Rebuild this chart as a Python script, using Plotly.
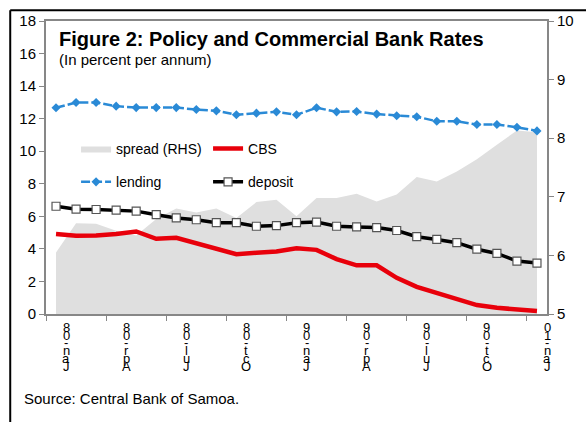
import plotly.graph_objects as go

# Monthly observations, Jan-08 .. Jan-10
months = ["Jan-08", "Feb-08", "Mar-08", "Apr-08", "May-08", "Jun-08", "Jul-08",
          "Aug-08", "Sep-08", "Oct-08", "Nov-08", "Dec-08", "Jan-09", "Feb-09",
          "Mar-09", "Apr-09", "May-09", "Jun-09", "Jul-09", "Aug-09", "Sep-09",
          "Oct-09", "Nov-09", "Dec-09", "Jan-10"]

lending = [12.67, 12.99, 12.99, 12.77, 12.68, 12.68, 12.68, 12.56, 12.48, 12.24,
           12.34, 12.42, 12.24, 12.67, 12.42, 12.44, 12.28, 12.18, 12.12, 11.84,
           11.84, 11.64, 11.64, 11.47, 11.25]

deposit = [6.62, 6.44, 6.42, 6.38, 6.32, 6.10, 5.90, 5.79, 5.61, 5.61,
           5.39, 5.43, 5.61, 5.65, 5.39, 5.35, 5.31, 5.13, 4.75, 4.58,
           4.38, 3.98, 3.72, 3.25, 3.13]

cbs = [4.91, 4.81, 4.82, 4.91, 5.07, 4.62, 4.68, 4.34, 4.04, 3.67,
       3.76, 3.84, 4.04, 3.94, 3.37, 2.99, 2.99, 2.22, 1.67, 1.31,
       0.97, 0.55, 0.38, 0.26, 0.18]

spread = [6.05, 6.55, 6.54, 6.42, 6.34, 6.62, 6.80, 6.73, 6.80, 6.64,
          6.91, 6.95, 6.67, 6.98, 6.98, 7.05, 6.92, 7.04, 7.34, 7.26,
          7.43, 7.64, 7.89, 8.13, 8.10]

tick_labels = ["Jan-08", "Apr-08", "Jul-08", "Oct-08", "Jan-09",
               "Apr-09", "Jul-09", "Oct-09", "Jan-10"]

FONT = "Arial, Liberation Sans, sans-serif"
AXIS_GREY = "#878787"

x = list(range(len(months)))

fig = go.Figure()

# Spread area on the right-hand axis (primary y, drawn underneath)
fig.add_trace(go.Scatter(
    x=x, y=spread, name="spread (RHS)", mode="lines",
    line=dict(width=0, color="#dfdfdf"), fill="tozeroy", fillcolor="#dfdfdf",
    yaxis="y", legend="legend"))

fig.add_trace(go.Scatter(
    x=x, y=cbs, name="CBS", mode="lines",
    line=dict(color="#e8000b", width=4.5),
    yaxis="y2", legend="legend"))

fig.add_trace(go.Scatter(
    x=x, y=lending, name="lending", mode="lines+markers",
    line=dict(color="#2a8ad6", width=2.5, dash="9px,3px"),
    marker=dict(symbol="diamond", size=7, color="#2a8ad6"),
    yaxis="y2", legend="legend2"))

fig.add_trace(go.Scatter(
    x=x, y=deposit, name="deposit", mode="lines+markers",
    line=dict(color="#000000", width=3.5),
    marker=dict(symbol="square", size=8, color="white",
                line=dict(color="#555555", width=1.2)),
    yaxis="y2", legend="legend2"))

# Quarterly tick marks sit on category boundaries
tick_pos = [i - 0.5 for i in range(0, len(months), 3)]
label_idx = [months.index(t) for t in tick_labels]

annotations = []
# Stacked x labels, one character per row, read bottom-up
for idx, lab in zip(label_idx, tick_labels):
    for j, ch in enumerate(reversed(lab)):
        annotations.append(dict(
            x=idx + 0.5, y=0, xref="x", yref="paper", text=ch,
            showarrow=False, xanchor="center", yanchor="top",
            yshift=-4 - j * 7.7, font=dict(family=FONT, size=13, color="black")))

annotations += [
    dict(x=0.022, y=0.9396, xref="paper", yref="paper", xanchor="left",
         yanchor="middle", showarrow=False,
         text="<b>Figure 2: Policy and Commercial Bank Rates</b>",
         font=dict(family=FONT, size=20, color="black")),
    dict(x=0.022, y=0.869, xref="paper", yref="paper", xanchor="left",
         yanchor="middle", showarrow=False, text="(In percent per annum)",
         font=dict(family=FONT, size=15, color="black")),
    dict(x=-0.0476, y=-0.287, xref="paper", yref="paper", xanchor="left",
         yanchor="middle", showarrow=False, text="Source: Central Bank of Samoa.",
         font=dict(family=FONT, size=15, color="black")),
]

# Outer frame: left and top edges
shapes = [
    dict(type="line", xref="paper", yref="paper", x0=-0.0714, x1=-0.0714,
         y0=1.0369, y1=-0.40, line=dict(color="black", width=2)),
    dict(type="line", xref="paper", yref="paper", x0=-0.0714, x1=1.08,
         y0=1.0369, y1=1.0369, line=dict(color="black", width=2)),
]

legend_common = dict(orientation="h", bgcolor="rgba(0,0,0,0)",
                     font=dict(family=FONT, size=14, color="black"),
                     entrywidth=87, entrywidthmode="pixels",
                     xanchor="left", yanchor="middle", traceorder="normal")

fig.update_layout(
    width=586, height=422,
    margin=dict(l=46, r=36, t=16, b=108),
    paper_bgcolor="white", plot_bgcolor="white",
    font=dict(family=FONT, size=15, color="black"),
    xaxis=dict(range=[-0.5, len(months) - 0.5], tickvals=tick_pos,
               showticklabels=False, ticks="outside", ticklen=5,
               tickcolor=AXIS_GREY, showline=True, linecolor=AXIS_GREY,
               linewidth=2, mirror=True, showgrid=False, zeroline=False),
    yaxis=dict(range=[5, 10], dtick=1, side="right", ticks="outside",
               ticklen=5, tickcolor=AXIS_GREY, showline=True,
               linecolor=AXIS_GREY, linewidth=2, showgrid=False,
               zeroline=False, tickfont=dict(size=15)),
    yaxis2=dict(range=[0, 18], dtick=2, side="left", overlaying="y",
                ticks="outside", ticklen=5, tickcolor=AXIS_GREY,
                showline=True, linecolor=AXIS_GREY, linewidth=2,
                showgrid=False, zeroline=False, tickfont=dict(size=15)),
    legend=dict(x=0.06, y=0.5638, **legend_common),
    legend2=dict(x=0.06, y=0.4497, **legend_common),
    annotations=annotations,
    shapes=shapes,
)

fig.write_html("out.html")
